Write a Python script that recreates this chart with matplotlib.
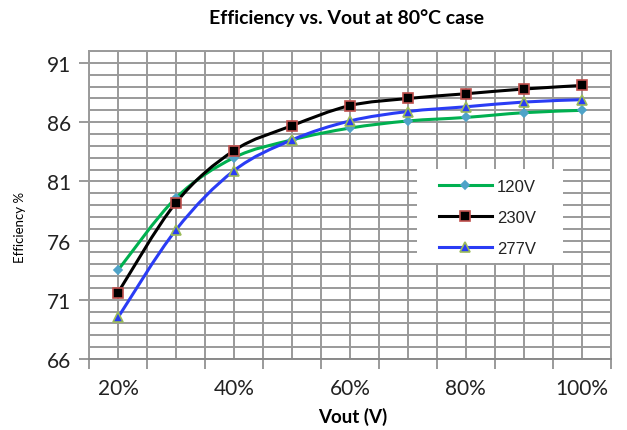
import numpy as np
import matplotlib
matplotlib.use('Agg')
import matplotlib.pyplot as plt
from matplotlib.path import Path
from matplotlib.patches import PathPatch, Rectangle
from matplotlib.lines import Line2D

# data
load = [0.2, 0.3, 0.4, 0.5, 0.6, 0.7, 0.8, 0.9, 1.0]
eff_120 = [73.5, 79.6, 83.0, 84.5, 85.5, 86.1, 86.4, 86.8, 87.0]
eff_230 = [71.6, 79.2, 83.6, 85.7, 87.4, 88.0, 88.4, 88.8, 89.1]
eff_277 = [69.5, 76.9, 81.9, 84.5, 86.1, 86.9, 87.3, 87.7, 87.9]
series = ['120V', '230V', '277V']
xtick_labels = ['20%', '40%', '60%', '80%', '100%']
ytick_vals = [66, 71, 76, 81, 86, 91]

lbl_font = 'Lato'
grid_c = '#9a9a9a'


# smooth line like excel (bezier through the points)
def smooth_path(x, y):
    p = np.column_stack([x, y])
    n = len(p)
    verts = [p[0]]
    codes = [Path.MOVETO]
    for i in range(n - 1):
        p0 = p[max(i - 1, 0)]
        p1 = p[i]
        p2 = p[i + 1]
        p3 = p[min(i + 2, n - 1)]
        c1 = p1 + (p2 - p0) / 6
        c2 = p2 - (p3 - p1) / 6
        verts += [c1, c2, p2]
        codes += [Path.CURVE4] * 3
    return Path(verts, codes)


fig = plt.figure(figsize=(6.27, 4.31), dpi=100)
ax = fig.add_axes([0.142, 0.165, 0.832, 0.714])

ax.set_xlim(0.15, 1.05)
ax.set_ylim(66, 92)

# grid
for gx in np.arange(0.15, 1.0501, 0.05):
    ax.axvline(gx, color=grid_c, lw=1.4, zorder=0)
for gy in range(66, 93):
    ax.axhline(gy, color=grid_c, lw=1.4, zorder=0)

styles = [
    (eff_120, '#00b050', 'D', '#4fa3c8', '#4fa3c8', 4.5),
    (eff_230, '#000000', 's', '#000000', '#c0504d', 6.5),
    (eff_277, '#2a3cf5', '^', '#2a3cf5', '#9bbb59', 6.5),
]
handles = []
for (vals, c, m, fc, ec, ms), name in zip(styles, series):
    patch = PathPatch(smooth_path(load, vals), facecolor='none', edgecolor=c,
                      lw=2.2, zorder=3)
    ax.add_patch(patch)
    ax.plot(load, vals, ls='none', marker=m, ms=ms, mfc=fc, mec=ec, mew=1.2, zorder=4)
    handles.append(Line2D([], [], color=c, lw=2.2, marker=m, ms=ms, mfc=fc,
                          mec=ec, mew=1.2, label=name))

ax.set_xticks([0.2, 0.4, 0.6, 0.8, 1.0])
ax.set_xticklabels(xtick_labels)
ax.set_xticks(np.arange(0.15, 1.0501, 0.1), minor=True)
ax.tick_params(axis='x', which='major', length=0, pad=14, labelsize=15,
               labelcolor='#222222')
ax.tick_params(axis='x', which='minor', length=7, width=1.4, color=grid_c)
for t in ax.get_xticklabels():
    t.set_fontfamily(lbl_font)

ax.set_yticks(ytick_vals)
ax.tick_params(axis='y', length=7, width=1.4, color=grid_c, labelsize=15,
               labelcolor='#222222', pad=6)
for t in ax.get_yticklabels():
    t.set_fontfamily(lbl_font)

for s in ax.spines.values():
    s.set_color(grid_c)
    s.set_linewidth(1.4)
ax.spines['bottom'].set_color('#8a8a8a')

# white box behind the legend
ax.add_patch(Rectangle((0.628, 0.312), 0.28, 0.305, transform=ax.transAxes,
                       facecolor='white', edgecolor='none', zorder=1))
leg = ax.legend(handles=handles, loc='upper left', bbox_to_anchor=(0.67, 0.585),
                frameon=False, prop={'family': 'Liberation Sans', 'size': 12},
                handlelength=3.2, labelspacing=0.95, handletextpad=0.3,
                borderpad=0, borderaxespad=0)
for t in leg.get_texts():
    t.set_color('#222222')

fig.text(0.553, 0.957, 'Efficiency vs. Vout at 80°C case', ha='center', va='center',
         fontsize=14, fontweight='bold', family=lbl_font)
fig.text(0.563, 0.033, 'Vout (V)', ha='center', va='center',
         fontsize=13.5, fontweight='bold', family=lbl_font)
fig.text(0.032, 0.473, 'Efficiency %', rotation=90, ha='center', va='center',
         fontsize=9.5, family=lbl_font)

fig.savefig('out.png', dpi=100)
